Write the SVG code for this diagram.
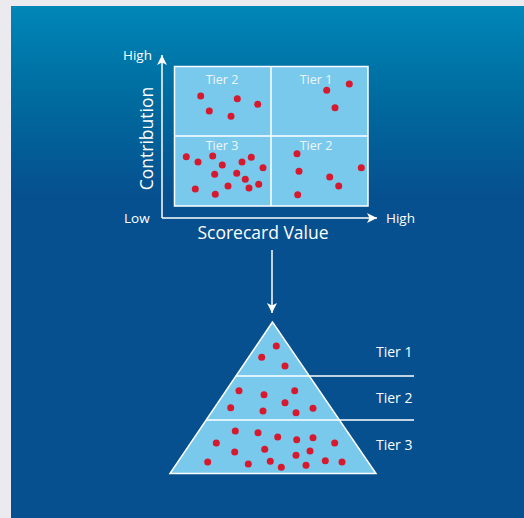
<svg xmlns="http://www.w3.org/2000/svg" width="524" height="518" viewBox="0 0 524 518">
<defs>
<linearGradient id="bg" gradientUnits="userSpaceOnUse" x1="0" y1="6" x2="0" y2="196">
<stop offset="0" stop-color="#0087B8"/>
<stop offset="0.5" stop-color="#006A9E"/>
<stop offset="1" stop-color="#06508F"/>
</linearGradient>
<marker id="ah" viewBox="0 0 10 10" refX="10" refY="5" markerWidth="10" markerHeight="10" markerUnits="userSpaceOnUse" orient="auto">
<path d="M0,0 L10,5 L0,10 L2.5,5 Z" fill="#fff"/>
</marker>
</defs>
<style>
text{font-family:"Open Sans","Noto Sans",sans-serif;fill:#fff}
.t{font-size:13.5px}
.p{font-size:14px}
.q{font-size:12.5px;fill:#EEF6FC;text-anchor:middle}
.big{font-size:17.5px}
.dot{fill:#D7192F}
.cell{fill:#79C9EC;stroke:#fff;stroke-width:1.5}
.ln{stroke:#fff;stroke-width:1.5;fill:none}
</style>
<rect x="0" y="0" width="524" height="518" fill="#EBEAEF"/>
<rect x="11" y="6" width="513" height="512" fill="url(#bg)"/>

<g id="matrix">
<rect class="cell" x="174.5" y="66.5" width="193.5" height="139.5"/>
<line class="ln" x1="271" y1="66.5" x2="271" y2="206"/>
<line class="ln" x1="174.5" y1="136" x2="368" y2="136"/>
<text class="q" x="222" y="84">Tier 2</text>
<text class="q" x="316" y="84">Tier 1</text>
<text class="q" x="222" y="150">Tier 3</text>
<text class="q" x="316" y="150">Tier 2</text>
<g>
<circle class="dot" cx="200.7" cy="96" r="3.5"/>
<circle class="dot" cx="237.3" cy="98.7" r="3.5"/>
<circle class="dot" cx="257.7" cy="104.3" r="3.5"/>
<circle class="dot" cx="209.3" cy="111" r="3.5"/>
<circle class="dot" cx="231" cy="116.3" r="3.5"/>
<circle class="dot" cx="326.7" cy="90.3" r="3.5"/>
<circle class="dot" cx="349.3" cy="84" r="3.5"/>
<circle class="dot" cx="335" cy="107.7" r="3.5"/>
<circle class="dot" cx="186.3" cy="156.7" r="3.5"/>
<circle class="dot" cx="198" cy="162" r="3.5"/>
<circle class="dot" cx="212.7" cy="156" r="3.5"/>
<circle class="dot" cx="222.3" cy="165" r="3.5"/>
<circle class="dot" cx="242" cy="162" r="3.5"/>
<circle class="dot" cx="251.3" cy="157.3" r="3.5"/>
<circle class="dot" cx="263" cy="167.7" r="3.5"/>
<circle class="dot" cx="214.7" cy="174.3" r="3.5"/>
<circle class="dot" cx="236.7" cy="173.3" r="3.5"/>
<circle class="dot" cx="245.3" cy="179.3" r="3.5"/>
<circle class="dot" cx="258.7" cy="184.3" r="3.5"/>
<circle class="dot" cx="249" cy="188" r="3.5"/>
<circle class="dot" cx="228" cy="186" r="3.5"/>
<circle class="dot" cx="195.3" cy="189" r="3.5"/>
<circle class="dot" cx="215.3" cy="194.3" r="3.5"/>
<circle class="dot" cx="297" cy="153.7" r="3.5"/>
<circle class="dot" cx="299" cy="171.3" r="3.5"/>
<circle class="dot" cx="361.3" cy="167.7" r="3.5"/>
<circle class="dot" cx="329.7" cy="177" r="3.5"/>
<circle class="dot" cx="338.7" cy="186" r="3.5"/>
<circle class="dot" cx="297.7" cy="194.7" r="3.5"/>
</g>
</g>

<g id="axes">
<text class="t" x="123" y="60">High</text>
<text class="t" x="124" y="222.5">Low</text>
<text class="t" x="386" y="222.5">High</text>
<text class="big" x="0" y="0" text-anchor="middle" transform="translate(152.5,138.5) rotate(-90)">Contribution</text>
<text class="big" x="263" y="239" text-anchor="middle">Scorecard Value</text>
</g>

<g id="connectors">
<line class="ln" x1="162" y1="218" x2="162" y2="55" marker-end="url(#ah)"/>
<line class="ln" x1="162" y1="218" x2="377" y2="218" marker-end="url(#ah)"/>
<line class="ln" x1="272" y1="250" x2="272" y2="313" marker-end="url(#ah)"/>
</g>

<g id="pyramid">
<polygon points="272.5,322 170,473.5 376,473.5" fill="#79C9EC" stroke="#fff" stroke-width="1.5" stroke-linejoin="miter"/>
<line class="ln" x1="236" y1="376" x2="414" y2="376"/>
<line class="ln" x1="206.5" y1="420" x2="414" y2="420"/>
<text class="p" x="376" y="357">Tier 1</text>
<text class="p" x="376" y="403">Tier 2</text>
<text class="p" x="376" y="450">Tier 3</text>
<g>
<circle class="dot" cx="276.3" cy="346" r="3.5"/>
<circle class="dot" cx="261.7" cy="357.3" r="3.5"/>
<circle class="dot" cx="285" cy="366" r="3.5"/>
<circle class="dot" cx="239" cy="390.7" r="3.5"/>
<circle class="dot" cx="264" cy="394.7" r="3.5"/>
<circle class="dot" cx="294.7" cy="390.7" r="3.5"/>
<circle class="dot" cx="285" cy="402.7" r="3.5"/>
<circle class="dot" cx="230.7" cy="407.7" r="3.5"/>
<circle class="dot" cx="263" cy="411" r="3.5"/>
<circle class="dot" cx="296" cy="412.7" r="3.5"/>
<circle class="dot" cx="313" cy="408.3" r="3.5"/>
<circle class="dot" cx="235.3" cy="431" r="3.5"/>
<circle class="dot" cx="258" cy="432.7" r="3.5"/>
<circle class="dot" cx="277.7" cy="437" r="3.5"/>
<circle class="dot" cx="296.7" cy="439.7" r="3.5"/>
<circle class="dot" cx="313" cy="437.7" r="3.5"/>
<circle class="dot" cx="334.7" cy="443" r="3.5"/>
<circle class="dot" cx="216.3" cy="443" r="3.5"/>
<circle class="dot" cx="234.7" cy="452" r="3.5"/>
<circle class="dot" cx="264.7" cy="449.3" r="3.5"/>
<circle class="dot" cx="296" cy="455.3" r="3.5"/>
<circle class="dot" cx="310" cy="451" r="3.5"/>
<circle class="dot" cx="207.7" cy="462" r="3.5"/>
<circle class="dot" cx="248.3" cy="464" r="3.5"/>
<circle class="dot" cx="270.3" cy="461.3" r="3.5"/>
<circle class="dot" cx="281.3" cy="467.3" r="3.5"/>
<circle class="dot" cx="306" cy="465.3" r="3.5"/>
<circle class="dot" cx="325.3" cy="460.7" r="3.5"/>
<circle class="dot" cx="342" cy="462" r="3.5"/>
</g>
</g>
</svg>
